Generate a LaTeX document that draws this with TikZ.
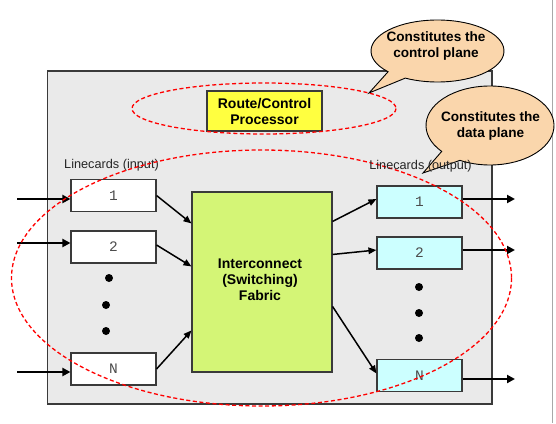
\documentclass[tikz,border=0pt]{standalone}
\usepackage{fontspec}
\setmainfont{Liberation Sans}
\setmonofont{Liberation Mono}
\usetikzlibrary{arrows.meta,shapes.geometric,calc}

\definecolor{framefill}{HTML}{EAEAEA}
\definecolor{edgegray}{HTML}{3A3A3A}
\definecolor{procyellow}{HTML}{FFFF40}
\definecolor{fabricgreen}{HTML}{D4F576}
\definecolor{outcyan}{HTML}{CCFFFF}
\definecolor{peach}{HTML}{FAD6AC}
\definecolor{sideline}{HTML}{A8A8A8}

\begin{document}
\begin{tikzpicture}[x=1pt,y=-1pt,
  frame/.style={draw=edgegray, fill=framefill, line width=1.2pt},
  card/.style={draw=edgegray, line width=1.1pt, minimum width=85pt,
    minimum height=32pt, inner sep=0pt, text=black!70,
    font=\ttfamily\fontsize{14.5}{16}\selectfont},
  incard/.style={card, fill=white},
  outcard/.style={card, fill=outcyan},
  boldtext/.style={font=\bfseries\fontsize{14}{16}\selectfont, align=center},
  calloutshape/.style={draw=black, fill=peach, line width=0.9pt},
  callouttext/.style={font=\bfseries\fontsize{13.6}{16}\selectfont, align=center},
  plane/.style={draw=red, dash pattern=on 4pt off 2.6pt, line width=1.3pt},
  label/.style={font=\fontsize{12.7}{15}\selectfont, text=black!85},
  bigarrow/.style={line width=2.7pt, -{Triangle[length=8pt,width=8pt]}},
  link/.style={line width=1.5pt, -{Triangle[length=8pt,width=6.5pt]}},
  dot/.style={circle, fill=black, minimum size=8pt, inner sep=0pt}
]
\useasboundingbox (0,0) rectangle (556,423);
\fill[white] (0,0) rectangle (556,423);

% page edge line on the right
\draw[sideline, line width=1.5pt] (552.5,0) -- (552.5,423);

% router chassis
\draw[frame] (47.5,71) rectangle (492,404);

% control plane
\node[boldtext, draw=edgegray, fill=procyellow, line width=1.1pt,
      minimum width=115pt, minimum height=40pt, inner sep=0pt]
      (proc) at (264.5,111) {Route/Control\\Processor};
\draw[plane] (264,108.5) ellipse [x radius=132, y radius=25.5];

% column labels
\node[label] (inlabel) at (111.5,165) {Linecards (input)};

% input linecards
\node[incard] (in1) at (113.5,195.5) {1};
\node[incard] (in2) at (113.5,247) {2};
\node[incard] (inN) at (113.5,369) {N};

% output linecards
\node[outcard] (out1) at (419.5,202) {1};
\node[outcard] (out2) at (419.5,253) {2};
\node[outcard] (outN) at (419.5,375.5) {N};

% switching fabric
\node[draw=edgegray, fill=fabricgreen, line width=1.1pt,
      minimum width=140pt, minimum height=180pt, inner sep=0pt]
      (fab) at (262,282) {};
\node[boldtext] (fabtext) at (260,280) {Interconnect\\(Switching)\\Fabric};

% ellipsis dots
\node[dot] (di1) at (109,278) {};
\node[dot] (di2) at (106,305) {};
\node[dot] (di3) at (106,331) {};
\node[dot] (do1) at (419,287) {};
\node[dot] (do2) at (419,313) {};
\node[dot] (do3) at (419,338) {};

% incoming and outgoing traffic
\coordinate (s1) at (17,199);
\coordinate (s2) at (17,243);
\coordinate (sN) at (17,372);
\coordinate (e1) at (515,199);
\coordinate (e2) at (515,250);
\coordinate (eN) at (515,379);
\draw[bigarrow] (s1) -- (s1 -| in1.west);
\draw[bigarrow] (s2) -- (s2 -| in2.west);
\draw[bigarrow] (sN) -- (sN -| inN.west);
\draw[bigarrow] (e1 -| out1.east) -- (e1);
\draw[bigarrow] (e2 -| out2.east) -- (e2);
\draw[bigarrow] (eN -| outN.east) -- (eN);

% linecards to fabric and fabric to linecards
\draw[link] (in1.east) -- ($(fab.north west)+(0,32)$);
\draw[link] ($(in2.east)+(0,-2)$) -- ($(fab.north west)+(0,75)$);
\draw[link] (inN.east) -- ($(fab.north west)+(0,139)$);
\draw[link] ($(fab.north east)+(0,30)$) -- ($(out1.west)+(0,-3)$);
\draw[link] ($(fab.north east)+(0,63)$) -- ($(out2.west)+(0,-3)$);
\draw[link] ($(fab.north east)+(0,115)$) -- ($(outN.west)+(0,-2)$);

% data plane
\draw[plane] (261.5,278) ellipse [x radius=250, y radius=128];

% callout for the control plane
\coordinate (c1c) at (437.5,51);
\coordinate (c1tip) at (369,93);
\path[calloutshape] (c1c) ++(138:66.5 and 31)
  arc[start angle=138, end angle=479, x radius=66.5, y radius=31]
  -- (c1tip) -- cycle;
\node[callouttext] (c1) at (436,46) {Constitutes the\\control plane};

% callout for the data plane
\coordinate (c2c) at (490,125.5);
\coordinate (c2tip) at (423,173);
\path[calloutshape] (c2c) ++(139:64 and 39.5)
  arc[start angle=139, end angle=478, x radius=64, y radius=39.5]
  -- (c2tip) -- cycle;
\node[callouttext] (c2) at (490.5,126) {Constitutes the\\data plane};

\node[label] (outlabel) at (420.5,166) {Linecards (output)};
\end{tikzpicture}
\end{document}
